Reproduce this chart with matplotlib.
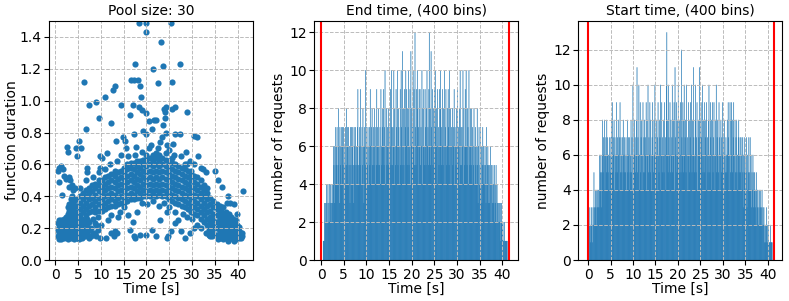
import numpy as np
import matplotlib
matplotlib.use("Agg")
import matplotlib.pyplot as plt

# ---------------- data ----------------
titles = ["Pool size: 30", "End time, (400 bins)", "Start time, (400 bins)"]
x_label = "Time [s]"
y_labels = ["function duration", "number of requests", "number of requests"]
red_lines = [0.0, 41.4]

# scatter: (start time [s], duration [s])
band_columns = [
    (4.6, [0.30, 0.34, 0.38]),
    (5.3, [0.28, 0.32, 0.36, 0.40]),
    (6.0, [0.30, 0.34, 0.38, 0.42]),
    (6.7, [0.28, 0.32, 0.36, 0.40, 0.44]),
    (7.4, [0.30, 0.34, 0.38, 0.42, 0.45]),
    (8.1, [0.31, 0.35, 0.39, 0.43, 0.47]),
    (8.8, [0.30, 0.33, 0.37, 0.41, 0.45, 0.48]),
    (9.5, [0.31, 0.35, 0.39, 0.43, 0.47, 0.50]),
    (10.2, [0.31, 0.34, 0.38, 0.42, 0.46, 0.50]),
    (10.9, [0.32, 0.36, 0.40, 0.44, 0.48, 0.52]),
    (11.6, [0.33, 0.37, 0.41, 0.45, 0.49, 0.53]),
    (12.3, [0.34, 0.38, 0.42, 0.46, 0.50, 0.54]),
    (13.0, [0.34, 0.37, 0.41, 0.45, 0.49, 0.53, 0.56]),
    (13.7, [0.35, 0.39, 0.43, 0.47, 0.51, 0.55]),
    (14.4, [0.36, 0.40, 0.44, 0.48, 0.52, 0.56]),
    (15.1, [0.36, 0.39, 0.43, 0.47, 0.51, 0.55, 0.58]),
    (15.8, [0.37, 0.41, 0.45, 0.49, 0.53, 0.57, 0.60]),
    (16.5, [0.38, 0.42, 0.46, 0.50, 0.54, 0.58, 0.61]),
    (17.2, [0.38, 0.41, 0.45, 0.49, 0.53, 0.57, 0.61]),
    (17.9, [0.39, 0.43, 0.47, 0.51, 0.55, 0.59, 0.62]),
    (18.6, [0.39, 0.42, 0.46, 0.50, 0.54, 0.58, 0.62]),
    (19.3, [0.40, 0.44, 0.48, 0.52, 0.56, 0.60, 0.63]),
    (20.0, [0.40, 0.43, 0.47, 0.51, 0.55, 0.59, 0.63, 0.66]),
    (20.7, [0.40, 0.44, 0.48, 0.52, 0.56, 0.60, 0.64]),
    (21.4, [0.41, 0.43, 0.47, 0.51, 0.55, 0.59, 0.63, 0.66]),
    (22.1, [0.40, 0.44, 0.48, 0.52, 0.56, 0.60, 0.64, 0.67]),
    (22.8, [0.41, 0.43, 0.47, 0.51, 0.55, 0.59, 0.63, 0.66]),
    (23.5, [0.40, 0.44, 0.48, 0.52, 0.56, 0.60, 0.64]),
    (24.2, [0.40, 0.43, 0.47, 0.51, 0.55, 0.59, 0.63, 0.67]),
    (24.9, [0.38, 0.42, 0.46, 0.50, 0.54, 0.58, 0.62]),
    (25.6, [0.37, 0.41, 0.45, 0.49, 0.53, 0.57, 0.61, 0.64]),
    (26.3, [0.36, 0.40, 0.44, 0.48, 0.52, 0.56, 0.60]),
    (27.0, [0.35, 0.39, 0.43, 0.47, 0.51, 0.55, 0.59]),
    (27.7, [0.34, 0.38, 0.42, 0.46, 0.50, 0.54, 0.58]),
    (28.4, [0.33, 0.37, 0.41, 0.45, 0.49, 0.53, 0.57, 0.60]),
    (29.1, [0.32, 0.36, 0.40, 0.44, 0.48, 0.52, 0.56]),
    (29.8, [0.30, 0.34, 0.38, 0.42, 0.46, 0.50, 0.54, 0.56]),
    (30.5, [0.29, 0.33, 0.37, 0.41, 0.45, 0.49, 0.53]),
    (31.2, [0.28, 0.32, 0.36, 0.40, 0.44, 0.48, 0.52]),
    (31.9, [0.26, 0.30, 0.34, 0.38, 0.42, 0.46, 0.50]),
    (32.6, [0.24, 0.28, 0.32, 0.36, 0.40, 0.44, 0.47]),
    (33.3, [0.22, 0.26, 0.30, 0.34, 0.38, 0.42, 0.45]),
    (34.0, [0.19, 0.23, 0.27, 0.31, 0.35, 0.39]),
    (34.7, [0.17, 0.21, 0.25, 0.29, 0.33, 0.37]),
    (35.4, [0.16, 0.20, 0.24, 0.28, 0.32, 0.35]),
    (36.1, [0.14, 0.18, 0.22, 0.26, 0.30, 0.34]),
    (36.8, [0.13, 0.17, 0.21, 0.25, 0.29, 0.33]),
    (37.5, [0.14, 0.18, 0.22, 0.26, 0.30]),
    (38.2, [0.13, 0.17, 0.21, 0.25, 0.29]),
    (38.9, [0.14, 0.18, 0.22, 0.26]),
    (39.6, [0.13, 0.17, 0.21, 0.25]),
    (40.3, [0.14, 0.18, 0.21]),
    (41.0, [0.15, 0.17]),
]
low_right_columns = [
    (33.65, [0.16, 0.19]),
    (34.35, [0.15, 0.18, 0.22, 0.26]),
    (35.75, [0.13, 0.16, 0.20, 0.24, 0.28]),
    (36.45, [0.15, 0.19, 0.23, 0.27, 0.31]),
    (37.15, [0.15, 0.19, 0.23, 0.27]),
    (37.85, [0.12, 0.16, 0.20, 0.24, 0.28]),
    (38.55, [0.15, 0.19, 0.23, 0.27]),
    (39.25, [0.12, 0.16, 0.20, 0.24]),
    (39.95, [0.15, 0.19, 0.22]),
    (40.65, [0.14, 0.17]),
]
low_left_columns = [
    (0.6, [0.15, 0.19, 0.23]),
    (0.9, [0.13, 0.17, 0.21, 0.25]),
    (1.3, [0.13, 0.17, 0.21, 0.25]),
    (1.65, [0.15, 0.19, 0.23]),
    (2.0, [0.14, 0.18, 0.22, 0.26]),
    (2.35, [0.15, 0.19, 0.23, 0.27]),
    (2.7, [0.13, 0.17, 0.21, 0.25, 0.29, 0.33]),
    (3.05, [0.15, 0.19, 0.23, 0.27, 0.31, 0.35]),
    (3.4, [0.14, 0.18, 0.22, 0.26, 0.30, 0.34, 0.38]),
    (3.75, [0.16, 0.20, 0.24, 0.28, 0.32, 0.36, 0.40]),
    (4.1, [0.13, 0.17, 0.21, 0.25, 0.29, 0.33, 0.37]),
    (4.45, [0.15, 0.19, 0.23, 0.27]),
    (4.8, [0.14, 0.18, 0.22, 0.26]),
    (5.15, [0.13, 0.17, 0.21, 0.25]),
    (5.5, [0.15, 0.19, 0.23]),
    (5.85, [0.14, 0.18, 0.22, 0.26]),
    (6.2, [0.16, 0.24]),
    (6.55, [0.15, 0.19, 0.25]),
    (7.0, [0.17, 0.22, 0.26]),
    (7.4, [0.14, 0.19, 0.24]),
    (7.8, [0.15, 0.20]),
    (8.2, [0.17, 0.26]),
    (8.6, [0.17, 0.23]),
    (9.0, [0.15, 0.22]),
    (9.3, [0.19, 0.27]),
]
scattered_points = [
    (0.5, 0.56), (0.7, 0.58), (1.2, 0.59), (1.6, 0.57), (0.8, 0.49), (1.5, 0.41),
    (2.0, 0.53), (2.4, 0.51), (3.0, 0.52), (3.3, 0.50), (3.6, 0.47), (2.9, 0.46),
    (3.9, 0.44), (4.3, 0.45), (2.6, 0.71), (2.8, 0.68), (4.6, 0.70), (5.2, 0.75),
    (4.8, 0.65), (5.7, 0.70), (6.3, 1.12), (6.8, 0.82), (7.3, 0.97), (8.9, 0.99),
    (9.6, 0.89), (9.8, 0.65), (10.2, 0.64), (10.9, 1.02), (11.3, 0.67), (12.2, 0.86),
    (12.6, 1.07), (13.0, 1.09), (13.3, 0.75), (14.3, 0.97), (14.8, 0.77), (15.2, 0.75),
    (15.5, 0.70), (16.3, 0.91), (16.5, 1.13), (17.2, 1.13), (17.4, 1.23), (17.2, 0.79),
    (17.0, 0.97), (18.1, 1.13), (18.6, 1.09), (18.7, 1.02), (18.3, 0.96), (19.1, 0.94),
    (19.3, 0.81), (17.8, 0.71), (18.3, 1.49), (19.9, 1.49), (19.9, 1.43), (20.0, 0.92),
    (20.0, 0.79), (20.6, 0.87), (21.3, 0.82), (21.7, 0.88), (22.1, 0.88), (21.5, 1.20),
    (22.5, 1.11), (23.2, 1.37), (23.6, 1.22), (23.8, 0.95), (24.1, 0.93), (24.0, 0.89),
    (24.3, 0.96), (23.6, 0.85), (23.3, 0.77), (24.2, 0.80), (25.3, 1.49), (25.5, 1.12),
    (26.2, 0.96), (25.7, 0.95), (27.3, 1.23), (26.3, 0.79), (25.8, 0.73), (27.3, 0.79),
    (28.8, 0.93), (28.6, 0.68), (29.0, 0.60), (30.4, 0.78), (31.2, 0.77), (31.4, 0.65),
    (32.0, 0.58), (32.5, 0.57), (33.0, 0.55), (35.0, 0.56), (35.8, 0.50), (36.5, 0.46),
    (38.0, 0.40), (41.1, 0.43), (37.6, 0.36), (38.4, 0.36), (39.2, 0.35), (39.8, 0.29),
    (5.5, 0.45), (6.7, 0.50), (7.0, 0.55), (6.9, 0.58), (8.2, 0.52), (9.5, 0.55),
    (9.8, 0.58), (11.0, 0.57), (12.0, 0.60), (13.5, 0.62), (14.5, 0.66), (16.0, 0.65),
    (17.5, 0.66), (19.0, 0.68), (20.5, 0.70), (21.0, 0.72), (22.5, 0.70), (23.0, 0.74),
    (24.5, 0.72), (25.0, 0.69), (26.0, 0.66), (27.5, 0.65), (29.5, 0.62), (30.5, 0.60),
    (9.8, 0.14), (11.2, 0.14), (12.3, 0.17), (12.8, 0.15), (13.5, 0.17), (13.1, 0.18),
    (16.3, 0.19), (17.0, 0.24), (17.3, 0.15), (17.4, 0.14), (18.6, 0.16), (19.8, 0.16),
    (21.3, 0.19), (22.0, 0.15), (23.0, 0.25), (24.4, 0.14), (24.8, 0.15), (25.4, 0.18),
    (26.3, 0.23), (27.5, 0.18), (28.5, 0.14), (29.5, 0.17), (30.5, 0.20), (10.0, 0.22),
    (11.5, 0.25), (12.2, 0.28), (13.8, 0.27), (14.2, 0.30), (16.0, 0.28), (18.0, 0.30),
    (20.2, 0.35), (22.7, 0.34), (24.5, 0.30), (26.2, 0.30), (28.0, 0.29), (27.0, 0.25),
    (15.0, 0.33), (19.0, 0.36), (21.5, 0.37), (23.9, 0.36), (25.0, 0.33), (28.8, 0.27),
    (30.0, 0.26), (31.0, 0.22), (32.0, 0.20), (33.0, 0.17), (34.0, 0.15),
]

# histograms: counts per bin (400 bins)
end_range = (0.45, 41.15)
end_counts = [
    1, 1, 1, 3, 2, 3, 2, 4, 3, 2,
    4, 2, 3, 4, 2, 3, 4, 2, 3, 4,
    3, 4, 6, 5, 3, 6, 4, 7, 5, 6,
    7, 4, 5, 8, 6, 3, 7, 5, 6, 7,
    4, 6, 7, 5, 7, 3, 6, 5, 7, 4,
    8, 5, 6, 7, 4, 7, 5, 6, 3, 7,
    5, 7, 4, 6, 7, 5, 3, 7, 6, 5,
    7, 4, 6, 5, 7, 9, 5, 4, 6, 7,
    5, 9, 6, 4, 7, 5, 8, 6, 3, 7,
    6, 5, 10, 4, 7, 6, 5, 7, 4, 6,
    7, 5, 9, 6, 4, 7, 8, 5, 6, 7,
    5, 8, 6, 4, 7, 5, 9, 6, 7, 5,
    8, 6, 5, 7, 4, 9, 6, 5, 7, 8,
    6, 9, 5, 7, 10, 4, 6, 8, 5, 7,
    6, 8, 5, 7, 4, 6, 9, 5, 10, 7,
    5, 7, 6, 10, 4, 8, 6, 5, 9, 7,
    6, 10, 5, 8, 7, 4, 6, 9, 5, 10,
    7, 5, 11, 6, 8, 5, 9, 4, 7, 10,
    6, 9, 5, 8, 7, 10, 5, 6, 9, 4,
    11, 6, 8, 5, 7, 10, 6, 9, 5, 12,
    7, 5, 9, 6, 10, 8, 4, 7, 9, 6,
    9, 5, 7, 6, 10, 4, 8, 6, 9, 5,
    6, 9, 7, 5, 8, 10, 6, 7, 5, 9,
    12, 6, 8, 5, 11, 7, 6, 9, 5, 8,
    6, 9, 5, 10, 7, 6, 8, 4, 9, 6,
    7, 5, 9, 6, 10, 8, 5, 7, 6, 9,
    5, 8, 6, 10, 4, 7, 9, 6, 5, 8,
    6, 9, 7, 5, 10, 6, 8, 4, 7, 6,
    8, 5, 7, 6, 9, 4, 7, 6, 5, 8,
    6, 9, 5, 7, 6, 4, 8, 10, 5, 7,
    5, 7, 6, 10, 4, 8, 6, 5, 9, 6,
    10, 6, 5, 8, 7, 4, 10, 6, 5, 8,
    6, 5, 8, 4, 7, 6, 5, 8, 4, 6,
    7, 5, 4, 6, 8, 5, 3, 6, 7, 4,
    5, 7, 4, 6, 3, 5, 7, 4, 6, 5,
    4, 6, 5, 3, 7, 4, 5, 6, 3, 5,
    5, 3, 4, 6, 2, 5, 4, 3, 5, 4,
    3, 5, 2, 4, 3, 5, 2, 4, 3, 2,
    3, 2, 3, 2, 3, 1, 2, 3, 2, 2,
    2, 1, 1, 2, 1, 1, 1, 1, 1, 1,
]
start_range = (0.25, 41.0)
start_counts = [
    2, 3, 1, 2, 2, 3, 2, 1, 3, 2,
    5, 3, 2, 4, 3, 4, 2, 3, 4, 3,
    4, 3, 6, 4, 5, 6, 3, 5, 6, 8,
    5, 7, 6, 8, 4, 6, 7, 5, 8, 6,
    7, 5, 6, 4, 7, 6, 5, 7, 8, 6,
    9, 5, 7, 6, 8, 4, 7, 6, 5, 9,
    6, 7, 5, 8, 6, 4, 7, 9, 5, 7,
    6, 5, 7, 4, 8, 6, 5, 7, 6, 5,
    7, 4, 6, 8, 5, 7, 6, 4, 7, 5,
    6, 8, 5, 7, 4, 10, 6, 5, 8, 6,
    7, 5, 6, 8, 11, 5, 7, 6, 10, 4,
    6, 9, 5, 7, 8, 4, 6, 9, 5, 7,
    8, 5, 7, 6, 9, 4, 8, 6, 10, 5,
    7, 6, 9, 5, 8, 6, 4, 7, 9, 6,
    5, 8, 6, 10, 7, 5, 6, 8, 4, 7,
    9, 6, 5, 8, 7, 10, 4, 6, 9, 5,
    7, 6, 8, 5, 9, 6, 7, 4, 10, 13,
    6, 8, 5, 10, 7, 6, 9, 5, 8, 6,
    7, 10, 5, 8, 6, 9, 4, 11, 7, 6,
    9, 5, 8, 6, 10, 7, 5, 8, 6, 9,
    5, 12, 7, 6, 9, 5, 8, 10, 6, 7,
    8, 5, 10, 6, 7, 4, 9, 6, 8, 5,
    7, 9, 6, 10, 5, 8, 6, 11, 7, 5,
    6, 8, 10, 5, 7, 9, 4, 6, 8, 7,
    11, 6, 8, 5, 9, 7, 6, 10, 5, 8,
    6, 9, 5, 7, 8, 4, 9, 6, 7, 5,
    8, 10, 6, 5, 9, 7, 4, 8, 6, 9,
    5, 7, 9, 6, 4, 8, 6, 10, 5, 7,
    8, 6, 5, 9, 7, 4, 6, 8, 5, 7,
    6, 9, 5, 7, 4, 8, 6, 5, 7, 6,
    5, 8, 6, 9, 7, 4, 6, 9, 5, 8,
    9, 6, 5, 8, 7, 9, 4, 6, 8, 5,
    7, 8, 5, 6, 4, 7, 8, 5, 6, 7,
    5, 7, 6, 4, 7, 5, 6, 3, 7, 5,
    6, 4, 5, 7, 3, 6, 4, 5, 7, 4,
    5, 7, 4, 6, 3, 5, 4, 6, 3, 5,
    4, 5, 3, 4, 2, 5, 4, 3, 4, 2,
    3, 4, 2, 3, 4, 2, 3, 4, 2, 3,
    2, 3, 1, 2, 2, 1, 2, 3, 1, 2,
    1, 2, 1, 1, 1, 2, 1, 1, 1, 1,
]

# ---------------- build ----------------
columns = band_columns + low_left_columns + low_right_columns
pts = [(x, y) for x, ys in columns for y in ys] + scattered_points
sc_x = np.array([p[0] for p in pts])
sc_y = np.array([p[1] for p in pts])

fig = plt.figure(figsize=(7.89, 3.01), dpi=100)
W, H = 789.0, 301.0
bottom, top = 260.0, 21.0
lefts = [49.3, 314.3, 578.3]
width = 204.0
axes = [fig.add_axes([l / W, (H - bottom) / H, width / W, (bottom - top) / H]) for l in lefts]

ax1, ax2, ax3 = axes
ax1.scatter(sc_x, sc_y, s=20, color="#1f77b4", linewidths=0)
ax1.set_ylim(0, 1.5)
ax1.set_xlim(-1.33, 43.45)
ax1.set_yticks(np.arange(0, 1.41, 0.2))


def draw_hist(ax, rng, counts, xlim):
    edges = np.linspace(rng[0], rng[1], len(counts) + 1)
    centers = 0.5 * (edges[:-1] + edges[1:])
    _, _, patches = ax.hist(centers, bins=edges, weights=counts, color="#1f77b4",
                            edgecolor="#1f77b4", linewidth=0.15)
    for p in patches:
        p.set_snap(False)
    for xv in red_lines:
        ax.axvline(xv, color="red", linewidth=1.5)
    ax.set_xlim(*xlim)
    ax.set_ylim(0, max(counts) * 1.05)
    ax.set_yticks(np.arange(0, max(counts) + 0.1, 2))


draw_hist(ax2, end_range, end_counts, (-1.48, 43.55))
draw_hist(ax3, start_range, start_counts, (-2.16, 43.2))

for i, (ax, t, yl) in enumerate(zip(axes, titles, y_labels)):
    ax.set_title(t, fontsize=10, pad=4)
    ax.set_xlabel(x_label, fontsize=10, labelpad=0)
    ax.set_ylabel(yl, fontsize=10, labelpad=(0.5 if i == 0 else 2))
    ax.set_xticks(np.arange(0, 41, 5))
    ax.tick_params(labelsize=10, pad=2)
    ax.grid(True, linestyle="--", color="#bbbbbb", linewidth=0.7)

fig.savefig("out.png", dpi=100)
